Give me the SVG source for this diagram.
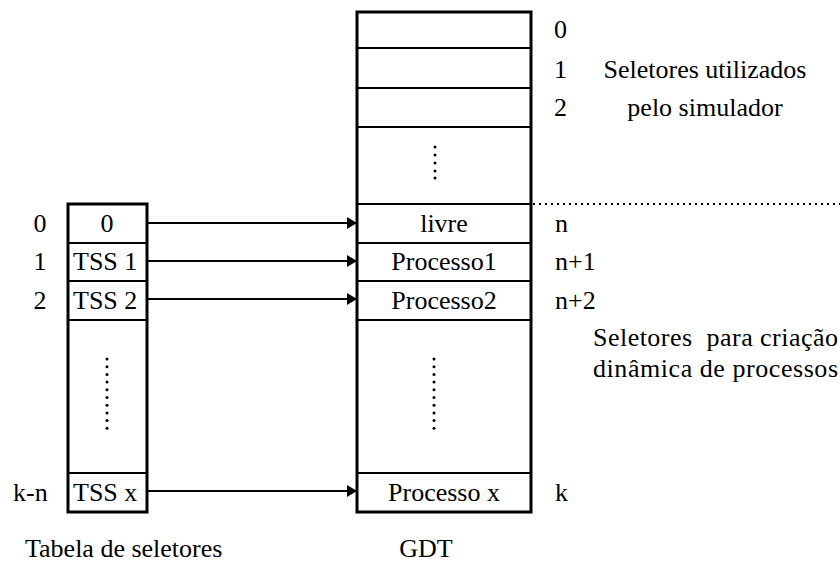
<svg xmlns="http://www.w3.org/2000/svg" width="840" height="562" viewBox="0 0 840 562">
<defs>
<style>
text{font-family:"Liberation Serif","Times New Roman","DejaVu Serif",serif;font-size:26px;fill:#000}
.mid{text-anchor:middle}
.box{fill:#fff;stroke:#000;stroke-width:3}
.row{stroke:#000;stroke-width:2}
.conn{stroke:#000;stroke-width:2;fill:none}
.dot{fill:#000}
</style>
<marker id="ah" viewBox="0 0 10 12" refX="10" refY="6" markerWidth="10" markerHeight="12" markerUnits="userSpaceOnUse" orient="auto">
<path d="M0,0 L10,6 L0,12 Z" fill="#000"/>
</marker>
<g id="vdots5">
<circle cx="0" cy="0" r="1.5"/><circle cx="0" cy="8" r="1.5"/><circle cx="0" cy="16" r="1.5"/><circle cx="0" cy="24" r="1.5"/><circle cx="0" cy="31" r="1.5"/>
</g>
<g id="vdots10">
<circle cx="0" cy="0" r="1.5"/><circle cx="0" cy="7.7" r="1.5"/><circle cx="0" cy="15.4" r="1.5"/><circle cx="0" cy="23.1" r="1.5"/><circle cx="0" cy="30.8" r="1.5"/><circle cx="0" cy="38.5" r="1.5"/><circle cx="0" cy="46.2" r="1.5"/><circle cx="0" cy="53.9" r="1.5"/><circle cx="0" cy="61.6" r="1.5"/><circle cx="0" cy="69.3" r="1.5"/>
</g>
</defs>
<rect width="840" height="562" fill="#fff"/>

<g id="gdt">
<rect class="box" x="357" y="12" width="174" height="500"/>
<line class="row" x1="357" y1="48" x2="531" y2="48"/>
<line class="row" x1="357" y1="88" x2="531" y2="88"/>
<line class="row" x1="357" y1="127" x2="531" y2="127"/>
<line class="row" x1="357" y1="204" x2="531" y2="204"/>
<line class="row" x1="357" y1="243" x2="531" y2="243"/>
<line class="row" x1="357" y1="281" x2="531" y2="281"/>
<line class="row" x1="357" y1="320" x2="531" y2="320"/>
<line class="row" x1="357" y1="473" x2="531" y2="473"/>
<use href="#vdots5" x="435" y="147" class="dot"/>
<use href="#vdots10" x="434" y="359" class="dot"/>
<text class="mid" x="444" y="232">livre</text>
<text class="mid" x="444" y="270">Processo1</text>
<text class="mid" x="444" y="309">Processo2</text>
<text class="mid" x="444" y="501">Processo x</text>
<text class="mid" x="426" y="557">GDT</text>
</g>

<g id="tabela">
<rect class="box" x="68" y="204" width="79" height="308"/>
<line class="row" x1="68" y1="243" x2="147" y2="243"/>
<line class="row" x1="68" y1="281" x2="147" y2="281"/>
<line class="row" x1="68" y1="320" x2="147" y2="320"/>
<line class="row" x1="68" y1="473" x2="147" y2="473"/>
<use href="#vdots10" x="107" y="359" class="dot"/>
<text class="mid" x="107" y="232">0</text>
<text x="73" y="270">TSS 1</text>
<text x="73" y="309">TSS 2</text>
<text x="73" y="501">TSS x</text>
<text x="25" y="557">Tabela de seletores</text>
</g>

<g id="left-index">
<text class="mid" x="40" y="232">0</text>
<text class="mid" x="40" y="270">1</text>
<text class="mid" x="40" y="309">2</text>
<text x="13" y="501">k-n</text>
</g>

<g id="right-index">
<text x="554" y="38">0</text>
<text x="554" y="78">1</text>
<text x="554" y="116">2</text>
<text x="555" y="232">n</text>
<text x="555" y="270">n+1</text>
<text x="555" y="309">n+2</text>
<text x="555" y="501">k</text>
</g>

<g id="labels">
<text class="mid" x="705" y="78">Seletores utilizados</text>
<text class="mid" x="705" y="116">pelo simulador</text>
<text x="593" y="346" xml:space="preserve" textLength="245" lengthAdjust="spacing">Seletores  para criação</text>
<text x="593" y="377" textLength="245" lengthAdjust="spacing">dinâmica de processos</text>
</g>

<g id="connectors">
<line class="conn" x1="147" y1="223" x2="357" y2="223" marker-end="url(#ah)"/>
<line class="conn" x1="147" y1="261" x2="357" y2="261" marker-end="url(#ah)"/>
<line class="conn" x1="147" y1="299" x2="357" y2="299" marker-end="url(#ah)"/>
<line class="conn" x1="147" y1="491" x2="357" y2="491" marker-end="url(#ah)"/>
<line x1="533" y1="204" x2="840" y2="204" stroke="#000" stroke-width="2" stroke-dasharray="2 4"/>
</g>
</svg>
